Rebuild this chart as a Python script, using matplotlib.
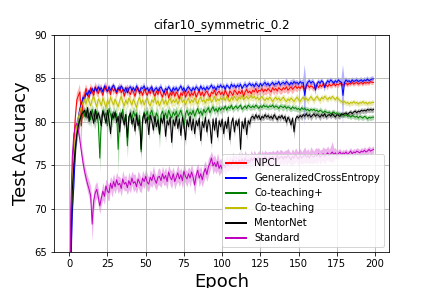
import numpy as np
import matplotlib
matplotlib.use('Agg')
import matplotlib.pyplot as plt
from matplotlib.lines import Line2D

# mean test accuracy per epoch
npcl_mean = [
    52.0, 66.0, 74.0, 77.5, 80.5, 82.5, 83.0, 83.4, 79.5, 82.5,
    83.0, 83.8, 83.2, 82.7, 83.9, 83.4, 83.0, 84.0, 83.6, 83.2,
    83.9, 83.5, 83.0, 83.8, 84.1, 83.4, 83.7, 83.1, 83.9, 83.5,
    83.8, 83.2, 83.6, 84.0, 83.3, 83.7, 82.9, 83.5, 83.9, 83.4,
    83.1, 83.7, 83.4, 82.9, 83.6, 83.9, 83.2, 83.5, 83.0, 83.7,
    83.4, 83.0, 83.6, 83.2, 83.8, 83.3, 82.9, 83.5, 83.1, 83.7,
    83.2, 82.8, 83.5, 83.0, 83.6, 82.7, 83.3, 83.0, 83.5, 82.9,
    83.4, 83.1, 82.6, 83.3, 83.0, 83.6, 82.8, 83.2, 83.5, 82.9,
    83.3, 83.0, 83.5, 82.8, 83.2, 83.6, 83.0, 83.4, 82.9, 83.3,
    83.5, 83.1, 82.8, 83.4, 83.2, 83.6, 83.0, 83.3, 83.5, 83.1,
    83.4, 83.0, 83.6, 83.2, 82.8, 83.5, 83.3, 83.0, 83.6, 83.4,
    83.1, 83.5, 83.2, 83.6, 82.9, 83.4, 83.7, 83.3, 83.5, 83.2,
    83.6, 83.4, 83.8, 83.3, 83.6, 83.5, 83.8, 83.4, 83.7, 83.5,
    83.8, 83.6, 83.4, 83.9, 83.6, 83.8, 83.5, 83.9, 83.7, 83.6,
    83.9, 83.7, 84.0, 83.6, 83.8, 84.0, 83.7, 83.9, 84.1, 83.8,
    84.0, 83.8, 84.1, 83.9, 83.7, 84.0, 84.2, 83.9, 84.1, 84.0,
    83.8, 84.1, 84.2, 83.9, 84.2, 84.0, 84.3, 84.1, 84.2, 84.0,
    84.3, 84.1, 84.2, 84.4, 84.1, 84.3, 84.2, 84.4, 84.3, 84.2,
    84.3, 84.4, 84.2, 84.4, 84.3, 84.5, 84.3, 84.4, 84.5, 84.3,
    84.4, 84.5, 84.3, 84.5, 84.4, 84.5, 84.4, 84.6, 84.5, 84.5,
]
npcl_std = [
    2.0, 2.0, 1.6, 1.2, 1.0, 0.8, 0.7, 0.9, 2.6, 0.8,
    0.6, 0.5, 0.6, 0.5, 0.5, 0.6, 0.5, 0.5, 0.6, 0.5,
    0.5, 0.4, 0.5, 0.4, 0.5, 0.5, 0.4, 0.5, 0.4, 0.5,
    0.4, 0.5, 0.4, 0.5, 0.5, 0.4, 0.5, 0.4, 0.4, 0.5,
    0.5, 0.4, 0.5, 0.4, 0.5, 0.4, 0.4, 0.5, 0.4, 0.5,
    0.4, 0.5, 0.4, 0.4, 0.5, 0.4, 0.5, 0.4, 0.5, 0.4,
    0.5, 0.4, 0.4, 0.5, 0.4, 0.5, 0.4, 0.5, 0.4, 0.4,
    0.4, 0.5, 0.4, 0.5, 0.4, 0.4, 0.5, 0.4, 0.5, 0.4,
    0.5, 0.4, 0.4, 0.5, 0.4, 0.5, 0.4, 0.4, 0.5, 0.4,
    0.4, 0.5, 0.4, 0.4, 0.5, 0.4, 0.5, 0.4, 0.4, 0.5,
    0.5, 0.6, 0.5, 0.5, 0.6, 0.5, 0.5, 0.7, 0.5, 0.6,
    0.5, 0.6, 0.5, 0.5, 0.6, 0.5, 0.6, 0.5, 0.5, 0.6,
    0.5, 0.5, 0.6, 0.5, 0.5, 0.6, 0.5, 0.5, 0.6, 0.5,
    0.5, 0.6, 0.5, 0.5, 0.6, 0.5, 0.5, 0.5, 0.6, 0.5,
    0.5, 0.5, 0.6, 0.5, 0.5, 0.5, 0.6, 0.5, 0.5, 0.5,
    0.4, 0.4, 0.3, 0.4, 0.4, 0.3, 0.4, 0.4, 0.3, 0.4,
    0.4, 0.3, 0.4, 0.3, 0.4, 0.3, 0.4, 0.3, 0.3, 0.4,
    0.3, 0.3, 0.4, 0.3, 0.3, 0.3, 0.4, 0.3, 0.3, 0.3,
    0.3, 0.3, 0.3, 0.3, 0.3, 0.3, 0.3, 0.3, 0.3, 0.3,
    0.3, 0.3, 0.3, 0.3, 0.3, 0.3, 0.3, 0.3, 0.3, 0.3,
]

gce_mean = [
    50.0, 62.0, 69.5, 72.5, 76.5, 79.0, 80.5, 81.5, 82.0, 82.8,
    82.5, 83.3, 83.0, 83.6, 83.2, 83.8, 83.4, 83.9, 83.5, 84.0,
    83.6, 83.9, 83.4, 84.1, 83.7, 83.5, 84.0, 83.6, 83.9, 84.2,
    83.7, 83.4, 83.9, 83.6, 84.1, 83.8, 83.5, 83.9, 83.3, 83.8,
    84.0, 83.6, 83.9, 83.5, 84.1, 83.7, 83.4, 83.9, 83.8, 84.1,
    83.6, 83.9, 83.5, 83.8, 84.0, 83.4, 83.7, 83.9, 83.5, 83.8,
    84.0, 83.6, 83.3, 83.8, 83.6, 84.0, 83.7, 83.4, 83.9, 83.6,
    83.9, 83.5, 83.8, 84.1, 83.6, 83.9, 83.4, 83.8, 84.0, 83.7,
    83.5, 83.9, 83.6, 84.0, 83.8, 83.5, 84.1, 83.7, 83.9, 83.6,
    84.0, 83.7, 83.9, 84.2, 83.8, 84.0, 83.6, 84.1, 83.9, 84.2,
    83.9, 84.1, 83.7, 84.2, 84.0, 83.8, 84.3, 84.0, 84.2, 83.9,
    84.2, 84.0, 84.3, 83.8, 84.1, 84.3, 84.0, 84.2, 84.4, 84.1,
    84.3, 84.0, 84.4, 84.2, 84.0, 84.4, 84.1, 84.3, 84.5, 84.2,
    84.4, 84.1, 84.3, 84.5, 84.2, 84.4, 84.3, 84.6, 84.2, 84.4,
    84.5, 84.3, 84.6, 84.4, 84.2, 84.5, 84.3, 84.6, 84.4, 84.5,
    84.3, 84.6, 84.4, 84.5, 83.0, 84.2, 84.5, 84.7, 84.4, 84.6,
    84.5, 83.6, 84.3, 84.6, 84.4, 84.7, 84.5, 83.9, 84.4, 84.7,
    84.5, 84.8, 84.6, 84.4, 84.7, 84.5, 84.8, 84.6, 84.5, 83.0,
    84.5, 84.8, 84.6, 84.7, 84.5, 84.8, 84.6, 84.7, 84.8, 84.6,
    84.7, 84.8, 84.6, 84.8, 84.7, 84.9, 84.7, 84.8, 84.9, 84.9,
]
gce_std = [
    2.0, 2.0, 1.6, 1.5, 1.0, 0.8, 0.6, 0.5, 0.5, 0.4,
    0.4, 0.3, 0.4, 0.3, 0.4, 0.3, 0.4, 0.3, 0.3, 0.4,
    0.3, 0.4, 0.3, 0.3, 0.4, 0.3, 0.3, 0.4, 0.3, 0.3,
    0.4, 0.3, 0.3, 0.4, 0.3, 0.3, 0.4, 0.3, 0.4, 0.3,
    0.3, 0.4, 0.3, 0.3, 0.4, 0.3, 0.4, 0.3, 0.3, 0.4,
    0.3, 0.3, 0.4, 0.3, 0.3, 0.4, 0.3, 0.3, 0.4, 0.3,
    0.4, 0.3, 0.3, 0.4, 0.3, 0.3, 0.4, 0.3, 0.3, 0.4,
    0.3, 0.4, 0.3, 0.3, 0.4, 0.3, 0.3, 0.4, 0.3, 0.3,
    0.4, 0.3, 0.3, 0.4, 0.3, 0.4, 0.3, 0.3, 0.4, 0.3,
    0.3, 0.4, 0.3, 0.3, 0.4, 0.3, 0.3, 0.4, 0.3, 0.3,
    0.3, 0.3, 0.4, 0.3, 0.3, 0.3, 0.4, 0.3, 0.3, 0.3,
    0.3, 0.4, 0.3, 0.3, 0.3, 0.4, 0.3, 0.3, 0.3, 0.3,
    0.3, 0.3, 0.3, 0.4, 0.3, 0.3, 0.3, 0.3, 0.4, 0.3,
    0.3, 0.3, 0.3, 0.3, 0.3, 0.4, 0.3, 0.3, 0.3, 0.3,
    0.3, 0.3, 0.4, 0.3, 0.3, 0.3, 0.5, 0.3, 0.3, 0.3,
    0.3, 0.3, 0.3, 0.4, 3.5, 0.4, 0.3, 0.3, 0.3, 0.3,
    0.3, 0.6, 0.3, 0.3, 0.3, 0.3, 0.3, 0.5, 0.3, 0.3,
    0.3, 0.3, 0.3, 0.3, 0.3, 0.3, 0.3, 0.3, 0.4, 3.5,
    0.4, 0.3, 0.3, 0.3, 0.3, 0.3, 0.3, 0.3, 0.3, 0.3,
    0.3, 0.3, 0.3, 0.3, 0.3, 0.3, 0.3, 0.3, 0.3, 0.3,
]

ctp_mean = [
    53.0, 66.0, 72.5, 75.5, 77.5, 79.0, 79.8, 80.3, 80.8, 81.2,
    80.6, 81.3, 80.4, 81.0, 80.2, 81.4, 80.7, 80.0, 81.2, 79.8,
    75.8, 80.5, 81.3, 80.6, 81.0, 79.5, 81.5, 80.8, 80.2, 81.1,
    80.5, 80.9, 76.8, 81.0, 80.4, 81.4, 80.0, 80.8, 77.2, 80.6,
    80.9, 80.3, 81.2, 80.6, 81.0, 79.8, 80.7, 76.5, 80.4, 81.1,
    80.6, 81.2, 80.2, 80.9, 81.3, 80.5, 80.0, 81.0, 80.6, 78.5,
    80.8, 81.2, 80.5, 81.0, 80.3, 81.3, 80.8, 80.4, 81.1, 80.7,
    81.2, 80.5, 80.9, 81.3, 80.6, 79.2, 80.9, 81.3, 80.7, 81.1,
    80.8, 81.3, 80.6, 81.1, 81.5, 80.9, 81.2, 80.7, 81.4, 81.0,
    81.3, 81.6, 81.0, 81.4, 81.7, 81.2, 81.5, 81.1, 81.6, 81.3,
    81.6, 81.4, 81.8, 81.3, 81.7, 81.5, 81.9, 81.4, 81.6, 81.8,
    81.5, 81.7, 81.9, 81.4, 81.6, 81.8, 81.5, 81.9, 81.7, 81.6,
    81.8, 81.6, 81.9, 81.7, 81.5, 81.8, 81.6, 81.9, 81.7, 81.8,
    81.6, 81.8, 81.7, 81.9, 81.6, 81.8, 81.7, 81.5, 81.8, 81.7,
    81.6, 81.8, 81.5, 81.7, 81.6, 81.4, 81.7, 81.5, 81.6, 81.4,
    81.5, 81.3, 81.6, 81.4, 81.5, 81.3, 81.4, 81.2, 81.4, 81.3,
    81.4, 81.2, 81.3, 81.1, 81.3, 81.2, 81.0, 81.2, 81.1, 81.0,
    81.1, 80.9, 81.0, 81.1, 80.9, 81.0, 80.8, 80.9, 80.7, 80.8,
    80.7, 80.8, 80.6, 80.7, 80.5, 80.7, 80.6, 80.5, 80.6, 80.4,
    80.6, 80.5, 80.4, 80.6, 80.5, 80.3, 80.5, 80.4, 80.5, 80.5,
]
ctp_std = [
    2.0, 2.0, 1.6, 1.4, 1.2, 1.0, 0.9, 0.8, 0.8, 0.7,
    0.7, 0.6, 0.8, 0.7, 0.9, 0.6, 0.8, 0.9, 0.7, 1.0,
    1.6, 0.8, 0.6, 0.9, 0.7, 1.0, 0.7, 0.8, 0.9, 0.7,
    0.8, 0.9, 2.8, 0.7, 0.6, 0.9, 0.7, 1.0, 1.4, 0.8,
    0.7, 0.9, 0.6, 0.8, 0.7, 1.0, 0.8, 1.1, 0.7, 0.6,
    0.8, 0.6, 0.9, 0.7, 0.6, 0.8, 1.0, 0.7, 0.8, 1.6,
    0.7, 0.6, 0.8, 0.6, 0.9, 0.6, 0.7, 0.8, 0.6, 0.7,
    0.6, 0.8, 0.6, 0.5, 0.7, 1.2, 0.6, 0.5, 0.7, 0.6,
    0.6, 0.5, 0.7, 0.5, 0.5, 0.6, 0.5, 0.7, 0.5, 0.6,
    0.5, 0.4, 0.6, 0.5, 0.4, 0.5, 0.4, 0.6, 0.4, 0.5,
    0.4, 0.4, 0.3, 0.4, 0.4, 0.3, 0.4, 0.4, 0.3, 0.4,
    0.4, 0.3, 0.4, 0.4, 0.3, 0.4, 0.3, 0.4, 0.4, 0.3,
    0.4, 0.3, 0.4, 0.3, 0.4, 0.4, 0.3, 0.4, 0.3, 0.4,
    0.3, 0.4, 0.3, 0.4, 0.3, 0.4, 0.3, 0.4, 0.3, 0.4,
    0.4, 0.3, 0.4, 0.3, 0.4, 0.3, 0.4, 0.3, 0.4, 0.3,
    0.4, 0.3, 0.4, 0.3, 0.3, 0.4, 0.3, 0.4, 0.3, 0.3,
    0.3, 0.4, 0.3, 0.3, 0.4, 0.3, 0.3, 0.4, 0.3, 0.3,
    0.3, 0.3, 0.4, 0.3, 0.3, 0.3, 0.4, 0.3, 0.3, 0.3,
    0.3, 0.3, 0.3, 0.3, 0.3, 0.3, 0.3, 0.3, 0.3, 0.3,
    0.3, 0.3, 0.3, 0.3, 0.3, 0.3, 0.3, 0.3, 0.3, 0.3,
]

ct_mean = [
    54.0, 67.0, 73.5, 76.0, 78.0, 79.5, 80.5, 81.2, 81.8, 82.2,
    82.6, 82.0, 82.8, 82.3, 81.8, 82.5, 82.9, 82.2, 81.7, 82.6,
    82.3, 81.8, 82.7, 82.2, 81.6, 82.5, 82.0, 82.8, 82.3, 81.9,
    82.6, 82.1, 81.7, 82.4, 82.9, 82.2, 81.8, 82.5, 82.0, 82.7,
    82.3, 81.9, 82.6, 82.1, 81.6, 82.4, 82.8, 82.0, 82.5, 81.9,
    82.4, 82.7, 82.1, 81.8, 82.5, 82.2, 82.8, 82.0, 82.4, 81.8,
    82.3, 82.6, 82.0, 82.5, 81.9, 82.4, 82.7, 82.1, 82.5, 82.2,
    82.6, 82.0, 82.4, 82.8, 82.2, 82.5, 81.9, 82.4, 82.7, 82.1,
    82.5, 82.2, 82.7, 82.3, 82.0, 82.6, 82.8, 82.3, 82.5, 82.1,
    82.6, 82.4, 82.8, 82.2, 82.5, 82.9, 82.3, 82.6, 82.4, 82.7,
    82.5, 82.8, 82.4, 82.9, 82.6, 82.3, 82.8, 82.5, 82.9, 82.6,
    82.4, 82.8, 82.6, 83.0, 82.5, 82.7, 82.9, 82.6, 82.8, 83.0,
    82.7, 82.9, 82.6, 82.8, 82.5, 82.7, 82.9, 82.6, 82.4, 82.7,
    82.5, 82.8, 82.6, 82.3, 82.6, 82.8, 82.5, 82.7, 82.4, 82.6,
    82.8, 82.5, 82.3, 82.6, 82.4, 82.7, 82.5, 82.3, 82.6, 82.8,
    82.5, 82.3, 82.6, 82.8, 82.5, 82.7, 82.4, 82.6, 82.9, 82.6,
    82.4, 82.7, 82.9, 82.6, 82.4, 82.8, 82.6, 82.9, 82.7, 82.5,
    82.8, 82.6, 82.9, 82.7, 82.5, 82.8, 82.6, 82.4, 82.3, 82.2,
    82.3, 82.1, 82.2, 82.0, 82.2, 82.1, 82.3, 82.1, 82.2, 82.0,
    82.2, 82.1, 82.3, 82.1, 82.2, 82.0, 82.2, 82.1, 82.2, 82.2,
]
ct_std = [
    2.0, 2.0, 1.6, 1.2, 1.0, 0.8, 0.7, 0.7, 0.6, 0.6,
    0.6, 0.5, 0.6, 0.5, 0.6, 0.5, 0.6, 0.5, 0.6, 0.5,
    0.5, 0.6, 0.5, 0.6, 0.5, 0.5, 0.6, 0.5, 0.6, 0.5,
    0.6, 0.5, 0.5, 0.6, 0.5, 0.6, 0.5, 0.5, 0.6, 0.5,
    0.5, 0.6, 0.5, 0.5, 0.6, 0.5, 0.6, 0.5, 0.5, 0.6,
    0.5, 0.5, 0.6, 0.5, 0.6, 0.5, 0.5, 0.6, 0.5, 0.5,
    0.6, 0.5, 0.5, 0.6, 0.5, 0.5, 0.6, 0.5, 0.6, 0.5,
    0.5, 0.6, 0.5, 0.5, 0.6, 0.5, 0.5, 0.6, 0.5, 0.5,
    0.5, 0.5, 0.6, 0.5, 0.5, 0.6, 0.5, 0.5, 0.5, 0.6,
    0.5, 0.5, 0.5, 0.6, 0.5, 0.5, 0.5, 0.6, 0.5, 0.5,
    0.4, 0.4, 0.5, 0.4, 0.4, 0.5, 0.4, 0.4, 0.5, 0.4,
    0.4, 0.5, 0.4, 0.4, 0.4, 0.5, 0.4, 0.4, 0.4, 0.5,
    0.4, 0.4, 0.4, 0.4, 0.5, 0.4, 0.4, 0.4, 0.4, 0.4,
    0.4, 0.4, 0.4, 0.4, 0.4, 0.4, 0.4, 0.4, 0.4, 0.4,
    0.4, 0.4, 0.4, 0.4, 0.4, 0.4, 0.4, 0.4, 0.4, 0.4,
    0.4, 0.3, 0.4, 0.3, 0.4, 0.3, 0.4, 0.3, 0.4, 0.3,
    0.4, 0.3, 0.4, 0.3, 0.4, 0.3, 0.4, 0.3, 0.4, 0.3,
    0.3, 0.3, 0.3, 0.3, 0.3, 0.3, 0.3, 0.3, 0.3, 0.3,
    0.3, 0.3, 0.3, 0.3, 0.3, 0.3, 0.3, 0.3, 0.3, 0.3,
    0.3, 0.3, 0.3, 0.3, 0.3, 0.3, 0.3, 0.3, 0.3, 0.3,
]

mentor_mean = [
    51.0, 65.0, 72.0, 75.0, 77.0, 78.5, 79.5, 80.2, 80.8, 81.0,
    81.3, 80.5, 81.6, 80.0, 81.2, 80.6, 79.8, 81.4, 80.3, 81.0,
    80.4, 79.5, 81.2, 80.7, 79.8, 81.3, 80.2, 78.6, 80.9, 80.4,
    81.1, 79.9, 80.6, 78.8, 81.0, 80.3, 79.6, 80.8, 78.2, 80.5,
    81.0, 79.7, 80.4, 78.9, 80.8, 79.5, 80.2, 76.8, 80.3, 80.9,
    79.8, 80.5, 78.5, 80.7, 80.1, 79.0, 80.6, 79.4, 80.2, 78.6,
    80.4, 79.8, 80.7, 78.3, 80.1, 79.6, 80.5, 77.6, 80.2, 79.5,
    80.6, 79.2, 80.3, 78.4, 80.5, 79.7, 77.9, 80.2, 79.4, 80.6,
    79.0, 80.3, 78.6, 80.1, 79.5, 80.4, 77.8, 80.0, 79.3, 80.5,
    78.8, 80.2, 79.6, 77.5, 80.3, 79.0, 80.4, 78.2, 80.1, 79.4,
    80.3, 78.6, 80.0, 79.2, 80.5, 77.9, 79.8, 80.4, 78.8, 80.1,
    79.5, 80.3, 76.8, 80.0, 79.2, 80.4, 78.5, 80.1, 79.7, 80.5,
    80.6, 80.3, 80.8, 80.4, 80.7, 80.2, 80.6, 80.4, 80.8, 80.5,
    80.7, 80.4, 80.6, 80.3, 80.8, 80.5, 80.2, 80.6, 80.4, 80.7,
    80.3, 80.6, 79.9, 80.5, 80.2, 79.6, 80.4, 78.8, 80.3, 80.6,
    80.4, 80.7, 80.5, 80.8, 80.6, 80.9, 80.6, 80.8, 80.5, 80.7,
    80.9, 80.6, 80.8, 80.7, 80.5, 80.8, 80.6, 80.9, 80.5, 80.7,
    80.8, 80.6, 80.9, 80.7, 80.5, 80.8, 80.7, 80.6, 80.9, 80.8,
    80.9, 81.0, 80.8, 81.0, 81.1, 80.9, 81.1, 81.2, 81.0, 81.2,
    81.1, 81.3, 81.2, 81.3, 81.2, 81.4, 81.3, 81.4, 81.3, 81.4,
]
mentor_std = [
    2.0, 2.0, 1.6, 1.3, 1.0, 0.8, 0.7, 0.6, 0.5, 0.5,
    0.5, 0.4, 0.5, 0.5, 0.4, 0.5, 0.5, 0.4, 0.5, 0.4,
    0.5, 0.5, 0.4, 0.5, 0.5, 0.4, 0.5, 0.7, 0.4, 0.5,
    0.4, 0.5, 0.4, 0.7, 0.4, 0.5, 0.5, 0.4, 0.7, 0.5,
    0.4, 0.5, 0.4, 0.6, 0.4, 0.5, 0.4, 0.8, 0.5, 0.4,
    0.5, 0.4, 0.6, 0.4, 0.5, 0.5, 0.4, 0.5, 0.4, 0.6,
    0.4, 0.5, 0.4, 0.7, 0.4, 0.5, 0.4, 0.7, 0.4, 0.5,
    0.4, 0.5, 0.4, 0.6, 0.4, 0.5, 0.7, 0.4, 0.5, 0.4,
    0.5, 0.4, 0.6, 0.4, 0.5, 0.4, 0.7, 0.4, 0.5, 0.4,
    0.6, 0.4, 0.5, 0.7, 0.4, 0.5, 0.4, 0.6, 0.4, 0.5,
    0.4, 0.6, 0.4, 0.5, 0.4, 0.7, 0.5, 0.4, 0.6, 0.4,
    0.5, 0.4, 0.8, 0.4, 0.5, 0.4, 0.6, 0.4, 0.5, 0.4,
    0.4, 0.3, 0.4, 0.3, 0.4, 0.3, 0.4, 0.3, 0.4, 0.3,
    0.4, 0.3, 0.4, 0.3, 0.4, 0.3, 0.4, 0.3, 0.4, 0.3,
    0.3, 0.4, 0.5, 0.3, 0.4, 0.5, 0.3, 0.8, 0.4, 0.3,
    0.4, 0.3, 0.4, 0.3, 0.4, 0.3, 0.4, 0.3, 0.4, 0.3,
    0.3, 0.4, 0.3, 0.3, 0.4, 0.3, 0.3, 0.4, 0.3, 0.3,
    0.3, 0.3, 0.4, 0.3, 0.3, 0.3, 0.4, 0.3, 0.3, 0.3,
    0.3, 0.3, 0.3, 0.3, 0.3, 0.3, 0.3, 0.3, 0.3, 0.3,
    0.3, 0.3, 0.3, 0.3, 0.3, 0.3, 0.3, 0.3, 0.3, 0.3,
]

std_mean = [
    50.0, 70.0, 76.0, 78.5, 79.5, 79.8, 79.0, 77.8, 76.5, 75.3,
    74.3, 73.5, 72.8, 72.2, 71.5, 68.2, 70.9, 71.8, 72.2, 71.3,
    70.3, 71.2, 72.0, 71.4, 72.6, 72.0, 71.8, 72.9, 72.3, 73.1,
    72.5, 73.3, 72.7, 72.9, 72.3, 73.4, 72.8, 73.0, 72.4, 73.2,
    72.7, 73.5, 72.9, 73.1, 72.5, 73.4, 73.0, 72.6, 73.5, 73.1,
    73.7, 73.0, 72.8, 73.6, 73.2, 73.9, 73.3, 72.9, 73.6, 73.7,
    73.2, 74.0, 73.4, 73.8, 73.1, 74.2, 73.6, 73.3, 74.0, 73.1,
    73.6, 74.1, 73.4, 73.9, 73.2, 74.3, 73.7, 73.4, 74.0, 73.5,
    74.2, 73.6, 72.7, 73.8, 74.4, 73.5, 74.0, 73.3, 74.1, 74.6,
    73.9, 74.8, 75.2, 75.8, 74.9, 75.3, 74.8, 75.4, 74.6, 75.0,
    74.5, 75.1, 74.7, 75.3, 74.9, 75.4, 75.0, 75.6, 75.2, 75.5,
    75.1, 75.6, 75.3, 75.7, 75.2, 75.8, 75.4, 75.6, 75.3, 75.8,
    75.5, 75.9, 75.4, 75.7, 75.9, 75.5, 75.8, 75.6, 76.0, 75.7,
    75.6, 75.9, 75.7, 76.0, 75.6, 75.8, 76.1, 75.7, 75.9, 76.0,
    75.7, 76.0, 75.8, 76.1, 75.9, 75.6, 76.0, 75.8, 76.2, 75.9,
    75.7, 76.1, 75.8, 76.0, 76.2, 75.9, 76.1, 75.8, 76.2, 76.0,
    75.9, 76.2, 76.0, 76.3, 75.9, 76.1, 76.3, 76.0, 76.2, 76.4,
    76.1, 76.3, 76.5, 76.2, 76.4, 76.1, 76.3, 76.5, 76.2, 76.4,
    76.3, 76.5, 76.2, 76.4, 76.6, 76.3, 76.5, 76.4, 76.6, 76.5,
    76.4, 76.6, 76.5, 76.7, 76.5, 76.6, 76.8, 76.6, 76.7, 76.8,
]
std_std = [
    2.0, 2.0, 1.2, 0.8, 0.6, 0.5, 0.6, 0.8, 0.9, 0.9,
    0.8, 0.8, 0.9, 1.0, 1.1, 1.9, 1.2, 1.0, 0.9, 1.0,
    0.9, 0.8, 1.0, 0.9, 0.8, 1.0, 0.9, 0.8, 1.0, 0.9,
    0.8, 0.9, 1.0, 0.8, 0.9, 1.0, 0.8, 0.9, 0.8, 1.0,
    0.9, 0.8, 1.0, 0.9, 0.8, 0.9, 1.0, 0.8, 0.9, 0.8,
    0.9, 1.0, 0.8, 0.9, 0.8, 1.0, 0.9, 0.8, 0.9, 1.0,
    0.8, 0.9, 0.8, 1.0, 0.9, 0.8, 0.9, 1.0, 0.8, 0.9,
    0.8, 1.0, 0.9, 0.8, 0.9, 1.0, 0.8, 0.9, 0.8, 1.0,
    0.9, 0.8, 1.1, 0.9, 0.8, 1.0, 0.9, 0.8, 1.0, 0.9,
    0.8, 1.0, 0.9, 0.8, 1.0, 0.9, 0.8, 1.0, 0.9, 0.8,
    0.8, 0.7, 0.8, 0.9, 0.7, 0.8, 0.7, 0.9, 0.8, 0.7,
    0.8, 0.9, 0.7, 0.8, 0.7, 0.9, 0.8, 0.7, 0.8, 0.9,
    0.7, 0.8, 0.9, 0.7, 0.8, 0.7, 0.9, 0.8, 0.7, 0.8,
    0.9, 0.7, 0.8, 0.7, 0.9, 0.8, 0.7, 0.8, 0.9, 0.7,
    0.8, 0.7, 0.9, 0.8, 0.7, 0.8, 0.9, 0.7, 0.8, 0.7,
    0.9, 0.8, 0.7, 0.8, 0.9, 0.7, 0.8, 0.7, 0.9, 0.8,
    0.7, 0.8, 0.9, 0.7, 0.8, 0.7, 0.8, 0.9, 0.7, 0.8,
    0.7, 0.9, 1.2, 0.7, 0.6, 0.5, 0.5, 0.4, 0.4, 0.4,
    0.4, 0.4, 0.4, 0.4, 0.4, 0.4, 0.4, 0.4, 0.4, 0.4,
    0.4, 0.4, 0.4, 0.4, 0.4, 0.4, 0.4, 0.4, 0.4, 0.4,
]

labels = ['NPCL', 'GeneralizedCrossEntropy', 'Co-teaching+',
          'Co-teaching', 'MentorNet', 'Standard']
colors = ['r', 'b', 'g', 'y', 'k', 'm']
means = [npcl_mean, gce_mean, ctp_mean, ct_mean, mentor_mean, std_mean]
stds = [npcl_std, gce_std, ctp_std, ct_std, mentor_std, std_std]

fig, ax = plt.subplots(figsize=(6, 4), dpi=72)
fig.subplots_adjust(left=0.125, right=0.9, top=0.88, bottom=0.125)

epochs = np.arange(len(npcl_mean))
handles = []
for lab, c, m, s in zip(labels, colors, means, stds):
    m = np.array(m)
    s = np.array(s)
    ax.plot(epochs, m, color=c, lw=1)
    ax.fill_between(epochs, m - s, m + s, color=c, alpha=0.3, lw=0)
    handles.append(Line2D([], [], color=c, lw=2, label=lab))

ax.set_ylim(65, 90)
ax.grid(True)
ax.set_title('cifar10_symmetric_0.2', fontsize=12)
ax.set_xlabel('Epoch', fontsize=18)
ax.set_ylabel('Test Accuracy', fontsize=18)
ax.legend(handles=handles, loc='lower right', fontsize=10)

fig.savefig('out.png', dpi=72)
